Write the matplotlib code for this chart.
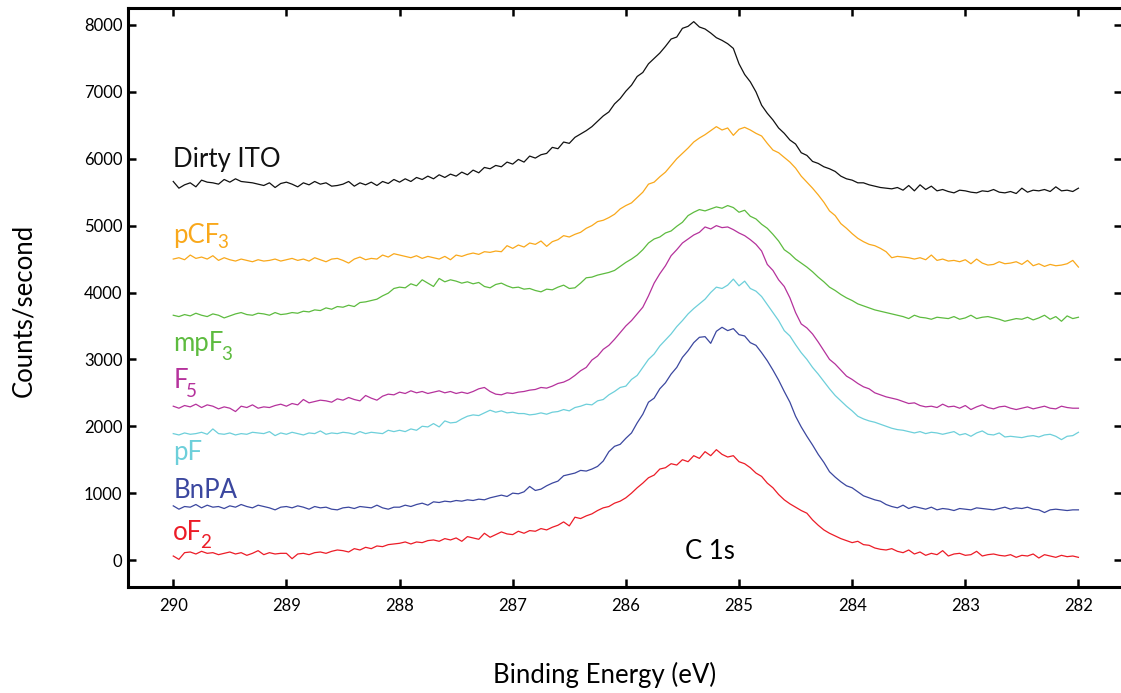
import numpy as np
import matplotlib
matplotlib.use("Agg")
import matplotlib.pyplot as plt

plt.rcParams['font.family'] = ['Lato', 'DejaVu Sans']

# binding energy grid, 0.05 eV steps from 290 down to 282
energy = np.linspace(290, 282, 161)

dirty_ito = [
    5660, 5560, 5610, 5640, 5580, 5680, 5650, 5640, 5620, 5690,
    5650, 5700, 5660, 5650, 5640, 5620, 5600, 5640, 5570, 5630,
    5650, 5620, 5580, 5640, 5610, 5660, 5620, 5640, 5590, 5600,
    5620, 5660, 5590, 5640, 5610, 5650, 5600, 5660, 5630, 5690,
    5650, 5700, 5660, 5720, 5690, 5740, 5700, 5760, 5720, 5770,
    5740, 5800, 5760, 5830, 5790, 5870, 5850, 5900, 5880, 5950,
    5920, 5990, 5950, 6040, 6010, 6060, 6080, 6170, 6150, 6250,
    6230, 6320, 6370, 6420, 6480, 6560, 6640, 6700, 6820, 6900,
    7010, 7100, 7230, 7290, 7420, 7500, 7580, 7680, 7790, 7820,
    7950, 7980, 8050, 7970, 7940, 7880, 7810, 7770, 7720, 7650,
    7420, 7260, 7150, 7000, 6800, 6680, 6580, 6460, 6380, 6280,
    6220, 6090, 6050, 5960, 5930, 5880, 5850, 5810, 5740, 5700,
    5680, 5640, 5640, 5610, 5590, 5570, 5560, 5550, 5570, 5530,
    5600, 5520, 5610, 5540, 5590, 5520, 5540, 5510, 5490, 5530,
    5520, 5500, 5490, 5520, 5510, 5540, 5500, 5490, 5510, 5480,
    5560, 5500, 5530, 5520, 5540, 5510, 5580, 5520, 5530, 5510,
    5560]

pcf3 = [
    4500, 4520, 4490, 4560, 4510, 4530, 4500, 4550, 4480, 4520,
    4490, 4470, 4500, 4480, 4460, 4490, 4470, 4480, 4500, 4470,
    4490, 4510, 4480, 4500, 4470, 4520, 4490, 4460, 4500, 4510,
    4480, 4440, 4500, 4530, 4490, 4510, 4500, 4560, 4530, 4580,
    4560, 4540, 4520, 4550, 4510, 4540, 4520, 4500, 4540, 4490,
    4560, 4540, 4570, 4590, 4570, 4610, 4600, 4620, 4610, 4700,
    4660, 4710, 4680, 4740, 4720, 4770, 4690, 4760, 4790, 4850,
    4830, 4870, 4900, 4960, 5000, 5060, 5080, 5120, 5170, 5250,
    5300, 5340, 5420, 5500, 5620, 5650, 5730, 5800, 5900, 6000,
    6080, 6160, 6250, 6310, 6360, 6420, 6480, 6430, 6460, 6350,
    6440, 6470, 6430, 6380, 6340, 6230, 6130, 6090, 6020, 5950,
    5860, 5740, 5650, 5560, 5460, 5350, 5220, 5150, 5030, 4960,
    4880, 4810, 4760, 4720, 4700, 4660, 4610, 4520, 4540, 4530,
    4520, 4500, 4520, 4490, 4560, 4480, 4500, 4470, 4480, 4460,
    4490, 4430, 4500, 4440, 4410, 4420, 4460, 4430, 4440, 4460,
    4420, 4480, 4400, 4430, 4390, 4420, 4400, 4410, 4430, 4480,
    4380]

mpf3 = [
    3660, 3640, 3670, 3650, 3690, 3660, 3640, 3680, 3660, 3620,
    3650, 3680, 3700, 3670, 3660, 3690, 3680, 3660, 3700, 3670,
    3680, 3700, 3690, 3720, 3710, 3740, 3730, 3770, 3750, 3790,
    3780, 3810, 3790, 3850, 3860, 3880, 3900, 3950, 3990, 4060,
    4080, 4070, 4130, 4100, 4190, 4140, 4090, 4210, 4160, 4190,
    4170, 4140, 4160, 4130, 4150, 4090, 4070, 4120, 4140, 4100,
    4070, 4080, 4050, 4060, 4030, 4010, 4050, 4040, 4080, 4110,
    4060, 4070, 4140, 4220, 4230, 4260, 4280, 4300, 4330, 4390,
    4450, 4500, 4560, 4640, 4740, 4800, 4830, 4890, 4920, 4990,
    5050, 5150, 5200, 5240, 5220, 5250, 5280, 5260, 5300, 5270,
    5200, 5230, 5140, 5100, 5020, 4960, 4870, 4770, 4640, 4580,
    4500, 4440, 4380, 4310, 4230, 4160, 4080, 4030, 3970, 3920,
    3880, 3830, 3800, 3770, 3740, 3720, 3700, 3680, 3660, 3640,
    3610, 3660, 3630, 3620, 3600, 3630, 3620, 3610, 3640, 3600,
    3620, 3660, 3610, 3630, 3640, 3620, 3600, 3570, 3590, 3610,
    3600, 3630, 3590, 3620, 3660, 3600, 3640, 3570, 3650, 3610,
    3630]

f5 = [
    2300, 2270, 2310, 2290, 2330, 2280, 2320, 2300, 2260, 2290,
    2270, 2220, 2300, 2280, 2320, 2270, 2290, 2280, 2310, 2330,
    2300, 2340, 2320, 2400, 2350, 2370, 2390, 2380, 2360, 2410,
    2390, 2430, 2400, 2380, 2460, 2420, 2390, 2450, 2480, 2470,
    2510, 2490, 2530, 2500, 2520, 2490, 2510, 2530, 2500, 2520,
    2490, 2510, 2490, 2520, 2560, 2580, 2520, 2480, 2470, 2500,
    2490, 2510, 2520, 2540, 2550, 2580, 2570, 2600, 2640, 2660,
    2700, 2760, 2830, 2880, 2990, 3050, 3150, 3210, 3300, 3400,
    3500, 3580, 3680, 3780, 3950, 4140, 4280, 4400, 4550, 4640,
    4740, 4800, 4860, 4900, 4980, 4950, 5000, 4970, 4980, 4940,
    4890, 4850, 4790, 4720, 4620, 4420, 4330, 4190, 4090, 3920,
    3700, 3530, 3470, 3380, 3260, 3130, 3000, 2930, 2840, 2750,
    2700, 2640, 2590, 2560, 2500, 2470, 2440, 2420, 2400, 2370,
    2340, 2350, 2310, 2290, 2300, 2280, 2330, 2290, 2300, 2270,
    2310, 2250, 2290, 2320, 2280, 2260, 2290, 2300, 2270, 2250,
    2270, 2290, 2260, 2280, 2300, 2270, 2260, 2300, 2280, 2270,
    2270]

pf = [
    1890, 1870, 1900, 1880, 1890, 1910, 1880, 1960, 1890, 1880,
    1900, 1870, 1890, 1880, 1910, 1900, 1890, 1920, 1860, 1900,
    1880, 1910, 1890, 1870, 1900, 1890, 1930, 1880, 1900, 1890,
    1910, 1900, 1880, 1920, 1890, 1910, 1900, 1890, 1940, 1920,
    1940, 1920, 1960, 1940, 2000, 1990, 2040, 1990, 2080, 2050,
    2060, 2110, 2150, 2170, 2160, 2200, 2240, 2210, 2230, 2200,
    2210, 2190, 2190, 2170, 2180, 2200, 2180, 2210, 2220, 2250,
    2230, 2280, 2300, 2330, 2320, 2380, 2400, 2470, 2520, 2580,
    2600, 2700, 2760, 2880, 3000, 3080, 3200, 3290, 3380, 3490,
    3580, 3680, 3760, 3830, 3900, 4000, 4080, 4060, 4110, 4200,
    4100, 4170, 4060, 4020, 3940, 3820, 3700, 3580, 3430, 3350,
    3220, 3100, 3000, 2880, 2780, 2670, 2560, 2460, 2380, 2300,
    2230, 2150, 2110, 2080, 2060, 2030, 2000, 1970, 1950, 1940,
    1920, 1900, 1920, 1890, 1910, 1900, 1880, 1900, 1920, 1870,
    1890, 1850, 1900, 1930, 1880, 1870, 1900, 1840, 1850, 1840,
    1830, 1850, 1860, 1840, 1870, 1880, 1850, 1800, 1850, 1860,
    1910]

bnpa = [
    810, 760, 800, 790, 830, 780, 820, 790, 800, 770,
    810, 790, 830, 800, 780, 820, 800, 780, 750, 790,
    800, 780, 810, 790, 760, 800, 780, 790, 760, 750,
    780, 790, 770, 800, 790, 780, 820, 780, 760, 790,
    790, 820, 800, 830, 850, 820, 870, 860, 880, 870,
    890, 880, 900, 890, 910, 900, 930, 950, 970, 950,
    1000, 990, 1020, 1100, 1040, 1060, 1110, 1150, 1180, 1260,
    1280, 1300, 1340, 1330, 1360, 1400, 1480, 1620, 1700, 1730,
    1820, 1900, 2050, 2180, 2360, 2420, 2560, 2650, 2780, 2880,
    3030, 3130, 3250, 3330, 3340, 3240, 3420, 3480, 3430, 3460,
    3370, 3350, 3250, 3210, 3100, 2980, 2840, 2690, 2520, 2360,
    2150, 1990, 1850, 1720, 1580, 1460, 1320, 1240, 1170, 1110,
    1080, 1020, 960, 930, 900, 880, 830, 800, 780, 820,
    770, 800, 780, 760, 790, 750, 770, 760, 740, 770,
    760, 750, 780, 770, 760, 750, 770, 790, 760, 780,
    770, 790, 760, 750, 710, 750, 760, 750, 740, 750,
    750]

of2 = [
    60, 10, 110, 120, 90, 130, 100, 110, 80, 100,
    120, 90, 110, 70, 100, 140, 80, 110, 90, 100,
    100, 20, 90, 100, 80, 110, 120, 100, 130, 150,
    140, 120, 170, 150, 190, 170, 210, 200, 230, 240,
    250, 270, 240, 270, 260, 290, 300, 280, 320, 300,
    330, 280, 350, 330, 310, 400, 340, 380, 420, 390,
    380, 430, 400, 440, 430, 470, 450, 490, 520, 570,
    510, 640, 620, 660, 690, 740, 780, 800, 850, 880,
    930, 1000, 1080, 1150, 1230, 1270, 1360, 1380, 1440, 1420,
    1500, 1470, 1560, 1520, 1620, 1560, 1650, 1580, 1540, 1560,
    1470, 1440, 1380, 1300, 1250, 1150, 1080, 980, 900, 840,
    790, 740, 700, 600, 520, 450, 400, 360, 320, 290,
    260, 280, 230, 220, 180, 160, 150, 170, 130, 110,
    150, 90, 120, 70, 100, 80, 140, 60, 90, 100,
    70, 80, 130, 60, 80, 90, 70, 60, 80, 40,
    70, 60, 90, 30, 80, 60, 40, 70, 50, 60,
    40]

series = [dirty_ito, pcf3, mpf3, f5, pf, bnpa, of2]
colors = ['#111111', '#F9A81B', '#5DBB3F', '#B5329C', '#6DCFDA', '#3B479F', '#EC1C27']
names = ['Dirty ITO', 'pCF', 'mpF', 'F', 'pF', 'BnPA', 'oF']
subs = ['', '3', '3', '5', '', '', '2']
sub_drop = [0, 3.5, 6.5, 6.5, 0, 0, 6]   # points below the baseline
label_base = [5880, 4736, 3130, 2567, 1495, 922, 299]

fig = plt.figure(figsize=(11.21, 6.93), dpi=100)
ax = fig.add_axes([128 / 1121, 106.5 / 693, 994 / 1121, 578.5 / 693])

for y, c in zip(series, colors):
    assert len(y) == len(energy)
    ax.plot(energy, y, color=c, lw=0.9)

for name, sub, drop, base, c in zip(names, subs, sub_drop, label_base, colors):
    t = ax.text(290.0, base, name, color=c, fontsize=18.5, ha='left', va='baseline')
    if sub:
        ax.annotate(sub, xy=(1, base), xycoords=(t, 'data'),
                    xytext=(-1.5, -drop), textcoords='offset points',
                    color=c, fontsize=13.5, ha='left', va='baseline')

ax.text(285.255, 15, 'C 1s', fontsize=18.5, ha='center', va='baseline')

ax.set_xlim(290.40, 281.615)
ax.set_ylim(-396, 8254)
ax.set_xticks(np.arange(290, 281, -1))
ax.set_yticks(np.arange(0, 8001, 1000))

for side in ['left', 'bottom', 'top']:
    ax.spines[side].set_linewidth(2.2)
ax.spines['right'].set_visible(False)

ax.tick_params(direction='in', length=6, width=1.8, top=True, right=True,
               labelsize=12, colors='black')
ax.tick_params(axis='x', pad=8)
ax.tick_params(axis='y', pad=4)

ax.set_xlabel('Binding Energy (eV)', fontsize=18.5)
ax.set_ylabel('Counts/second', fontsize=18.5)
ax.xaxis.set_label_coords(0.479, -0.131)
ax.yaxis.set_label_coords(-0.092, 0.478)

fig.savefig('out.png', dpi=100)
